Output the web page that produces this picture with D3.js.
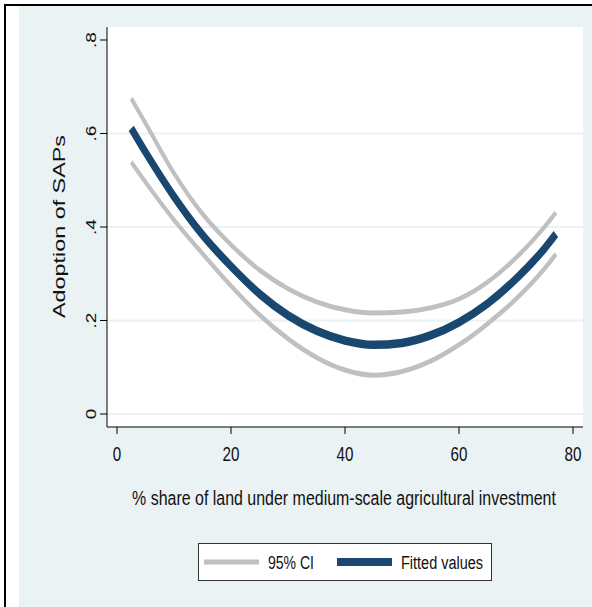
<!DOCTYPE html>
<html>
<head>
<meta charset="utf-8">
<script src="https://cdn.jsdelivr.net/npm/d3@7/dist/d3.min.js"></script>
<style>
  body { margin: 0; background: #fff; }
  text { font-family: "Liberation Sans", Arial, sans-serif; fill: #111; }
</style>
</head>
<body>
<div id="chart"></div>
<script>
// values
var xVals   = [2.5, 5, 10, 15, 20, 25, 30, 35, 40, 45, 50, 55, 60, 65, 70, 75, 77];
var fitted  = [0.611, 0.560, 0.465, 0.383, 0.316, 0.257, 0.211, 0.178, 0.157, 0.148, 0.152, 0.168, 0.196, 0.236, 0.289, 0.354, 0.385];
var ciUpper = [0.675, 0.622, 0.515, 0.428, 0.362, 0.308, 0.268, 0.240, 0.223, 0.216, 0.218, 0.227, 0.246, 0.282, 0.334, 0.400, 0.431];
var ciLower = [0.539, 0.496, 0.415, 0.343, 0.274, 0.212, 0.161, 0.121, 0.094, 0.083, 0.091, 0.113, 0.148, 0.193, 0.246, 0.311, 0.342];

var xTicks = [0, 20, 40, 60, 80];
var yTicks = [0, 0.2, 0.4, 0.6, 0.8];
var yTickLabels = ["0", ".2", ".4", ".6", ".8"];
var legendLabels = ["95% CI", "Fitted values"];
var xTitle = "% share of land under medium-scale agricultural investment";
var yTitle = "Adoption of SAPs";

var width = 592, height = 607;
var sx = 0.76; // picture is squeezed sideways
var bg = "#eaf2f3", navy = "#1a476f", ciGray = "#c0c0c0";

var svg = d3.select("#chart").append("svg")
  .attr("width", width)
  .attr("height", height);

// outer frame
svg.append("rect").attr("x", 19).attr("y", 5).attr("width", width - 19).attr("height", height - 5).attr("fill", bg);
svg.append("line").attr("x1", 4).attr("x2", width).attr("y1", 5).attr("y2", 5).attr("stroke", "#000").attr("stroke-width", 2);
svg.append("line").attr("x1", 5).attr("x2", 5).attr("y1", 4).attr("y2", height).attr("stroke", "#000").attr("stroke-width", 2);

// plot region
var plot = {left: 107, right: 583, top: 27, bottom: 427};
svg.append("rect")
  .attr("x", plot.left).attr("y", plot.top)
  .attr("width", plot.right - plot.left).attr("height", plot.bottom - plot.top)
  .attr("fill", "#fff");

var x = d3.scaleLinear().domain([0, 80]).range([117, 573]);
var y = d3.scaleLinear().domain([0, 0.8]).range([414, 40]);

// grid lines
svg.selectAll(".grid")
  .data(yTicks.filter(function(d) { return d < 0.8; }))
  .enter().append("line")
  .attr("class", "grid")
  .attr("x1", plot.left).attr("x2", plot.right)
  .attr("y1", function(d) { return y(d); })
  .attr("y2", function(d) { return y(d); })
  .attr("stroke", bg).attr("stroke-width", 2);

// curves drawn in an unsqueezed frame, then squeezed like the picture
var xw = d3.scaleLinear().domain([0, 80]).range([117 / sx, 573 / sx]);
var line = d3.line()
  .x(function(d) { return xw(d[0]); })
  .y(function(d) { return y(d[1]); })
  .curve(d3.curveMonotoneX);

var curves = svg.append("g").attr("transform", "scale(" + sx + ",1)");
[ciUpper, ciLower].forEach(function(vals) {
  curves.append("path")
    .datum(xVals.map(function(v, i) { return [v, vals[i]]; }))
    .attr("d", line)
    .attr("fill", "none")
    .attr("stroke", ciGray)
    .attr("stroke-width", 5);
});
curves.append("path")
  .datum(xVals.map(function(v, i) { return [v, fitted[i]]; }))
  .attr("d", line)
  .attr("fill", "none")
  .attr("stroke", navy)
  .attr("stroke-width", 8.5);

// y axis
svg.append("line")
  .attr("x1", plot.left).attr("x2", plot.left)
  .attr("y1", plot.top).attr("y2", plot.bottom)
  .attr("stroke", "#000");
svg.selectAll(".ytick")
  .data(yTicks)
  .enter().append("line")
  .attr("class", "ytick")
  .attr("x1", 100).attr("x2", plot.left)
  .attr("y1", function(d) { return y(d); })
  .attr("y2", function(d) { return y(d); })
  .attr("stroke", "#000");
svg.selectAll(".ylab")
  .data(yTicks)
  .enter().append("text")
  .attr("class", "ylab")
  .attr("transform", function(d) { return "translate(96," + y(d) + ") scale(" + sx + ",1) rotate(-90)"; })
  .attr("text-anchor", "middle")
  .style("font-size", "19px")
  .text(function(d, i) { return yTickLabels[i]; });

// x axis
svg.append("line")
  .attr("x1", plot.left).attr("x2", plot.right)
  .attr("y1", plot.bottom).attr("y2", plot.bottom)
  .attr("stroke", "#000");
svg.selectAll(".xtick")
  .data(xTicks)
  .enter().append("line")
  .attr("class", "xtick")
  .attr("x1", function(d) { return x(d); })
  .attr("x2", function(d) { return x(d); })
  .attr("y1", plot.bottom).attr("y2", plot.bottom + 7)
  .attr("stroke", "#000");
svg.selectAll(".xlab")
  .data(xTicks)
  .enter().append("text")
  .attr("class", "xlab")
  .attr("transform", function(d) { return "translate(" + x(d) + ",461) scale(" + sx + ",1)"; })
  .attr("text-anchor", "middle")
  .style("font-size", "20px")
  .text(function(d) { return d; });

// axis titles
svg.append("text")
  .attr("transform", "translate(344,505) scale(" + sx + ",1)")
  .attr("text-anchor", "middle")
  .style("font-size", "21px")
  .text(xTitle);

svg.append("text")
  .attr("transform", "translate(65,226.5) scale(" + sx + ",1) rotate(-90)")
  .attr("text-anchor", "middle")
  .attr("textLength", 183)
  .attr("lengthAdjust", "spacingAndGlyphs")
  .style("font-size", "21px")
  .text(yTitle);

// legend
var legend = svg.append("g");
legend.append("rect")
  .attr("x", 198.5).attr("y", 543.5)
  .attr("width", 293).attr("height", 37)
  .attr("fill", "#fff").attr("stroke", "#333");
var items = [
  {label: legendLabels[0], color: ciGray, w: 5, x0: 204, tx: 268, tw: 46},
  {label: legendLabels[1], color: navy, w: 8, x0: 337, tx: 401, tw: 82}
];
items.forEach(function(it) {
  legend.append("line")
    .attr("x1", it.x0).attr("x2", it.x0 + 55)
    .attr("y1", 562).attr("y2", 562)
    .attr("stroke", it.color).attr("stroke-width", it.w);
  legend.append("text")
    .attr("x", it.tx).attr("y", 569)
    .attr("textLength", it.tw)
    .attr("lengthAdjust", "spacingAndGlyphs")
    .style("font-size", "18px")
    .text(it.label);
});
</script>
</body>
</html>
